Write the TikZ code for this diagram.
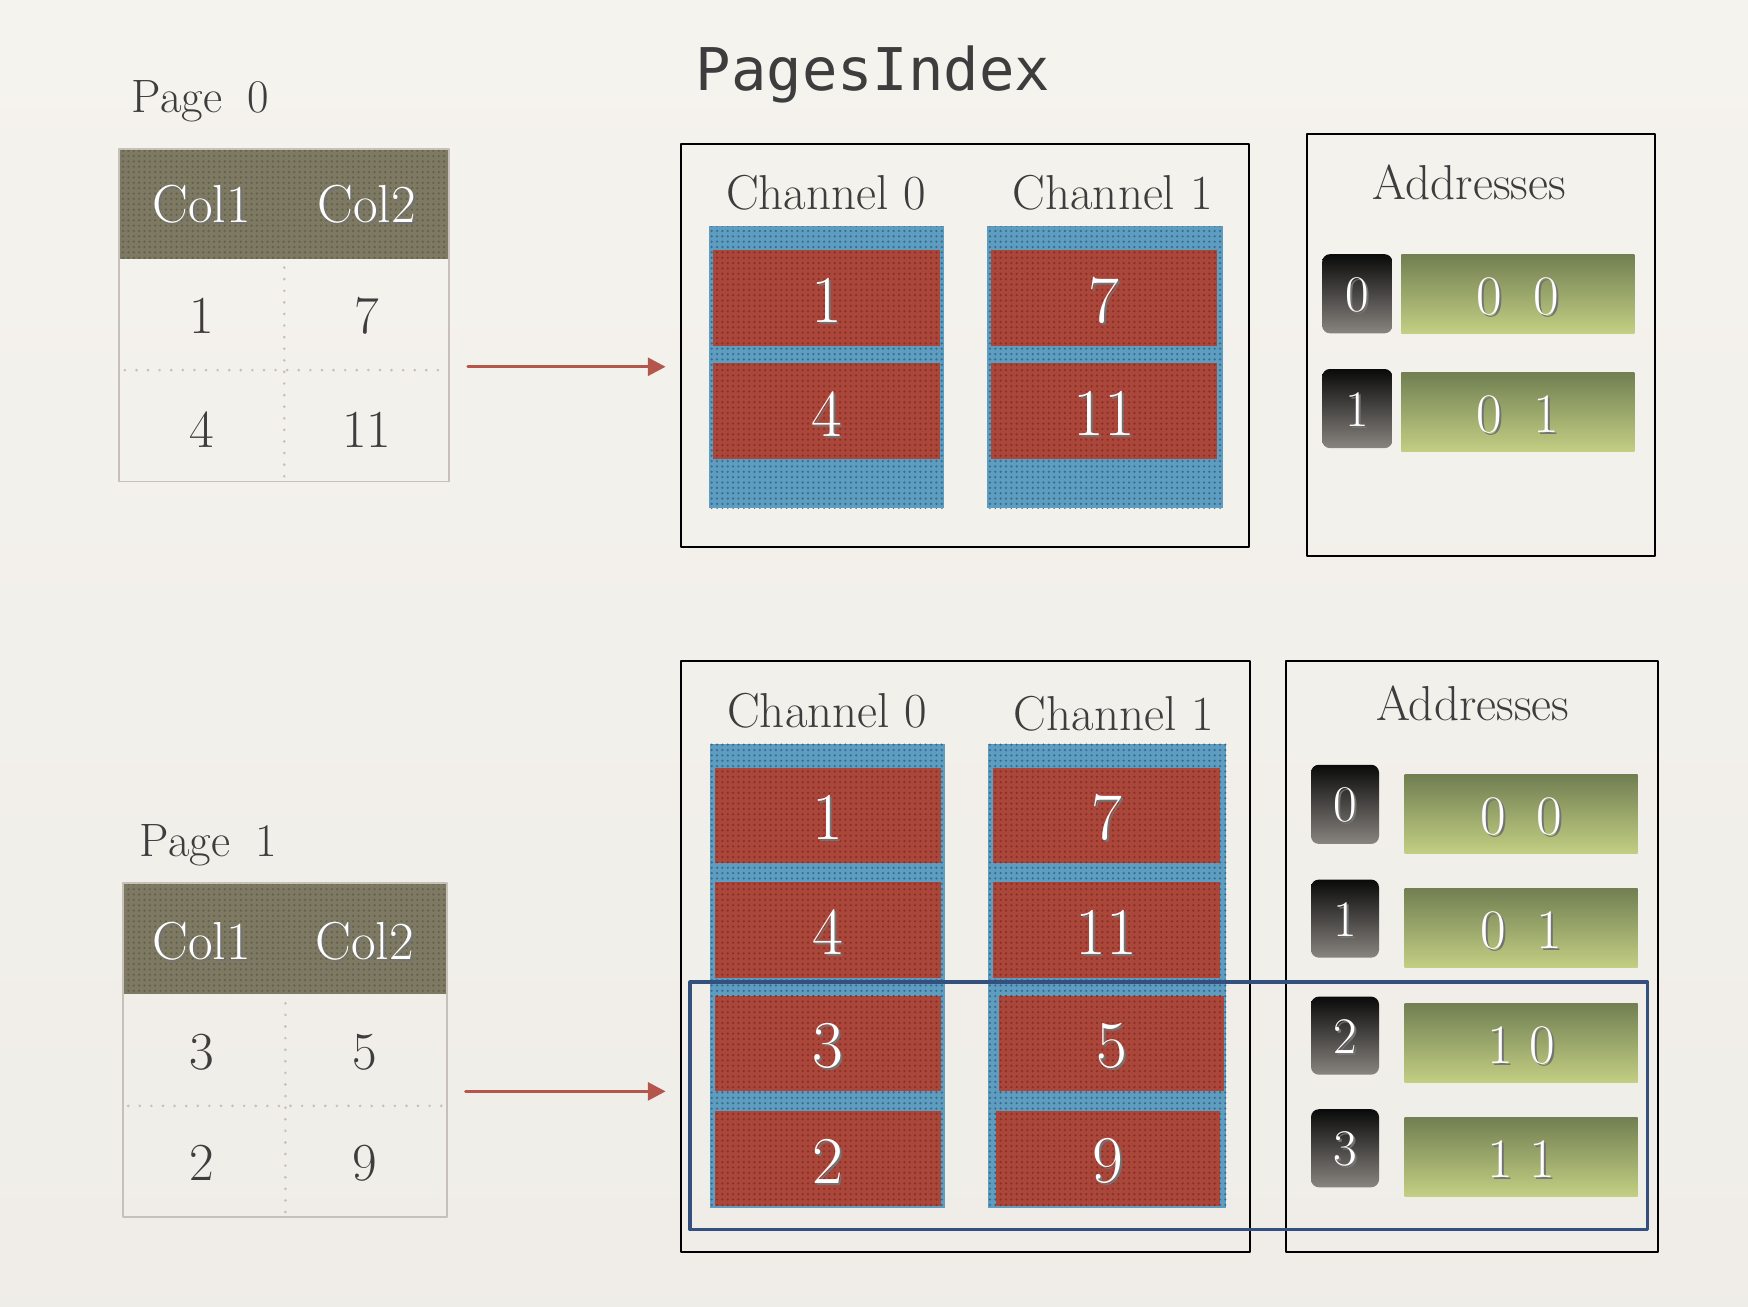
\documentclass[tikz,border=0pt]{standalone}
\usepackage{fontspec}
\setmonofont{DejaVu Sans Mono}
\usetikzlibrary{arrows.meta,fit,patterns.meta,positioning}
\definecolor{paper}{RGB}{245,243,238}
\definecolor{papermid}{RGB}{231,228,222}
\definecolor{ink}{RGB}{61,61,61}
\definecolor{head}{RGB}{125,121,98}
\definecolor{headdot}{RGB}{99,96,76}
\definecolor{rule}{RGB}{198,192,184}
\definecolor{chan}{RGB}{94,156,192}
\definecolor{chandot}{RGB}{54,108,142}
\definecolor{slot}{RGB}{170,70,58}
\definecolor{slotdot}{RGB}{134,48,40}
\definecolor{idxtop}{RGB}{10,10,10}
\definecolor{idxbot}{RGB}{136,132,127}
\definecolor{addrtop}{RGB}{113,127,82}
\definecolor{addrbot}{RGB}{195,207,131}
\definecolor{flowc}{RGB}{181,86,77}
\definecolor{navy}{RGB}{52,80,126}
\newcommand{\shd}[1]{\leavevmode\rlap{\kern0.9pt\raisebox{-0.9pt}{\color{black!55}#1}}#1}
\newcommand{\fsz}[1]{\fontsize{#1}{#1}\selectfont}
\tikzdeclarepattern{name=halftone, type=uncolored,
  bounding box={(-1.2pt,-1.2pt) and (1.2pt,1.2pt)}, tile size={(2.4pt,2.4pt)},
  code={\fill (0pt,0pt) circle (0.55pt);}}
\tikzset{
  every picture/.style={x=0.5pt, y=-0.5pt, line cap=round, line join=round,
    >={Triangle[length=8pt,width=8pt]}},
  every node/.style={inner sep=0pt, text=ink},
  % Rahmen und Linien
  frame/.style={draw=black, line width=0.9pt},
  tabframe/.style={draw=rule, line width=0.8pt},
  sep/.style={rule, line width=1.3pt, dash pattern=on 0pt off 5.2pt},
  flow/.style={->, flowc, line width=1.5pt, shorten <=8pt, shorten >=6.5pt},
  hilite/.style={draw=navy, line width=1.5pt},
  % Flaechen
  headfill/.style={fill=head, postaction={pattern=halftone, pattern color=headdot}},
  chancol/.style={fill=chan, postaction={pattern=halftone, pattern color=chandot}},
  slotcell/.style={fill=slot, postaction={pattern=halftone, pattern color=slotdot}},
  idx/.style={rounded corners=3.5pt, top color=idxtop, bottom color=idxbot},
  addr/.style={top color=addrtop, bottom color=addrbot},
  % Beschriftung
  ttl/.style={anchor=base, font=\ttfamily\fsz{26.4}},
  pglbl/.style={anchor=base west, font=\fsz{21}},
  hd/.style={anchor=base, text=white, font=\fsz{24}},
  val/.style={anchor=base, font=\fsz{24}},
  boxtitle/.style={anchor=base, font=\fsz{22}},
  slotnum/.style={text=white, font=\fsz{30}, yshift=-1.5pt},
  idxnum/.style={text=white, font=\fsz{23}, yshift=-0.8pt},
  addrnum/.style={text=white, font=\fsz{25}, yshift=-1.5pt},
}
\begin{document}
\begin{tikzpicture}
  \useasboundingbox (0,0) rectangle (1568,1172);
  \shade[top color=paper, middle color=papermid, bottom color=paper!60!papermid] (0,0) rectangle (1568,1172);
  \node[ttl] (pidx) at (783,81) {PagesIndex};

  % Page 0
  \node[pglbl] (pg0) at (118,101) {Page\hspace{0.55em}0};
  \node[headfill, fit={(107,134) (403,232)}] (h0) {};
  \draw[sep] (255,240) -- (255,428);
  \draw[sep] (112,332) -- (400,332);
  \node[tabframe, fit={(107,134) (403,432)}] (tab0) {};
  \node[hd] (h0a) at (181,200) {\shd{Col1}};
  \node[hd] (h0b) at (329,200) {\shd{Col2}};
  \node[val] (v0a) at (181,299) {1};
  \node[val] (v0b) at (329,299) {7};
  \node[val] (v0c) at (181,401) {4};
  \node[val] (v0d) at (329,401) {11};

  % PagesIndex nach Page 0
  \node[frame, fit={(611,129) (1120,491)}] (box0) {};
  \node[boxtitle] (ch0a) at (741,188) {Channel 0};
  \node[boxtitle] (ch0b) at (998,188) {Channel 1};
  \node[chancol, fit={(636,203) (847,456)}] (col0a) {};
  \node[chancol, fit={(885,203) (1097,456)}] (col0b) {};
  \node[slotcell, fit={(640,224) (843,310)}] (s0a) {};
  \node[slotcell, fit={(640,326) (843,412)}] (s0b) {};
  \node[slotcell, fit={(889,224) (1092,310)}] (s0c) {};
  \node[slotcell, fit={(889,326) (1092,412)}] (s0d) {};
  \node[slotnum] (n0a) at (s0a) {\shd{1}};
  \node[slotnum] (n0b) at (s0b) {\shd{4}};
  \node[slotnum] (n0c) at (s0c) {\shd{7}};
  \node[slotnum] (n0d) at (s0d) {\shd{11}};

  \node[frame, fit={(1172,120) (1485,499)}] (adr0) {};
  \node[boxtitle] (ad0) at (1318,179) {Addresses};
  \node[idx, fit={(1186,228) (1249,299)}] (i0a) {};
  \node[idx, fit={(1186,331) (1249,402)}] (i0b) {};
  \node[addr, fit={(1257,228) (1466,299)}] (d0a) {};
  \node[addr, fit={(1257,334) (1466,405)}] (d0b) {};
  \node[idxnum] (k0a) at (i0a) {\shd{0}};
  \node[idxnum] (k0b) at (i0b) {\shd{1}};
  \node[addrnum] (e0a) at (d0a) {\shd{0\hspace{0.55em}0}};
  \node[addrnum] (e0b) at (d0b) {\shd{0\hspace{0.55em}1}};

  \coordinate (a0) at (0,329);
  \draw[flow] (tab0.east |- a0) -- (box0.west |- a0);

  % Page 1
  \node[pglbl] (pg1) at (125,768) {Page\hspace{0.55em}1};
  \node[headfill, fit={(110,792) (401,892)}] (h1) {};
  \draw[sep] (256,900) -- (256,1088);
  \draw[sep] (115,992) -- (398,992);
  \node[tabframe, fit={(110,792) (401,1092)}] (tab1) {};
  \node[hd] (h1a) at (181,861) {\shd{Col1}};
  \node[hd] (h1b) at (327,861) {\shd{Col2}};
  \node[val] (v1a) at (181,959) {3};
  \node[val] (v1b) at (327,959) {5};
  \node[val] (v1c) at (181,1059) {2};
  \node[val] (v1d) at (327,1059) {9};

  % PagesIndex nach Page 1
  \node[frame, fit={(611,593) (1121,1123)}] (box1) {};
  \node[boxtitle] (ch1a) at (742,653) {Channel 0};
  \node[boxtitle] (ch1b) at (999,655) {Channel 1};
  \node[chancol, fit={(637,667) (848,1084)}] (col1a) {};
  \node[chancol, fit={(886,667) (1100,1084)}] (col1b) {};
  \node[slotcell, fit={(641,689) (844,774)}] (s1a) {};
  \node[slotcell, fit={(641,791) (844,877)}] (s1b) {};
  \node[slotcell, fit={(641,893) (844,979)}] (s1c) {};
  \node[slotcell, fit={(641,997) (844,1082)}] (s1d) {};
  \node[slotcell, fit={(891,689) (1094,774)}] (s1e) {};
  \node[slotcell, fit={(891,791) (1094,877)}] (s1f) {};
  \node[slotcell, fit={(896,893) (1098,979)}] (s1g) {};
  \node[slotcell, fit={(893,997) (1094,1082)}] (s1h) {};
  \node[slotnum] (n1a) at (s1a) {\shd{1}};
  \node[slotnum] (n1b) at (s1b) {\shd{4}};
  \node[slotnum] (n1c) at (s1c) {\shd{3}};
  \node[slotnum] (n1d) at (s1d) {\shd{2}};
  \node[slotnum] (n1e) at (s1e) {\shd{7}};
  \node[slotnum] (n1f) at (s1f) {\shd{11}};
  \node[slotnum] (n1g) at (s1g) {\shd{5}};
  \node[slotnum] (n1h) at (s1h) {\shd{9}};

  \node[frame, fit={(1154,593) (1487,1123)}] (adr1) {};
  \node[boxtitle] (ad1) at (1321,646) {Addresses};
  \node[idx, fit={(1176,686) (1237,757)}] (i1a) {};
  \node[idx, fit={(1176,789) (1237,859)}] (i1b) {};
  \node[idx, fit={(1176,894) (1237,964)}] (i1c) {};
  \node[idx, fit={(1176,995) (1237,1065)}] (i1d) {};
  \node[addr, fit={(1260,695) (1469,766)}] (d1a) {};
  \node[addr, fit={(1260,797) (1469,868)}] (d1b) {};
  \node[addr, fit={(1260,900) (1469,971)}] (d1c) {};
  \node[addr, fit={(1260,1002) (1469,1073)}] (d1d) {};
  \node[idxnum] (k1a) at (i1a) {\shd{0}};
  \node[idxnum] (k1b) at (i1b) {\shd{1}};
  \node[idxnum] (k1c) at (i1c) {\shd{2}};
  \node[idxnum] (k1d) at (i1d) {\shd{3}};
  \node[addrnum] (e1a) at (d1a) {\shd{0\hspace{0.55em}0}};
  \node[addrnum] (e1b) at (d1b) {\shd{0\hspace{0.55em}1}};
  \node[addrnum] (e1c) at (d1c) {\shd{1\hspace{0.3em}0}};
  \node[addrnum] (e1d) at (d1d) {\shd{1\hspace{0.3em}1}};

  \coordinate (a1) at (0,979);
  \draw[flow] (tab1.east |- a1) -- (box1.west |- a1);

  % neu hinzugekommene Zeilen
  \node[hilite, fit={(619,881) (1478,1103)}] (sel) {};
\end{tikzpicture}
\end{document}
